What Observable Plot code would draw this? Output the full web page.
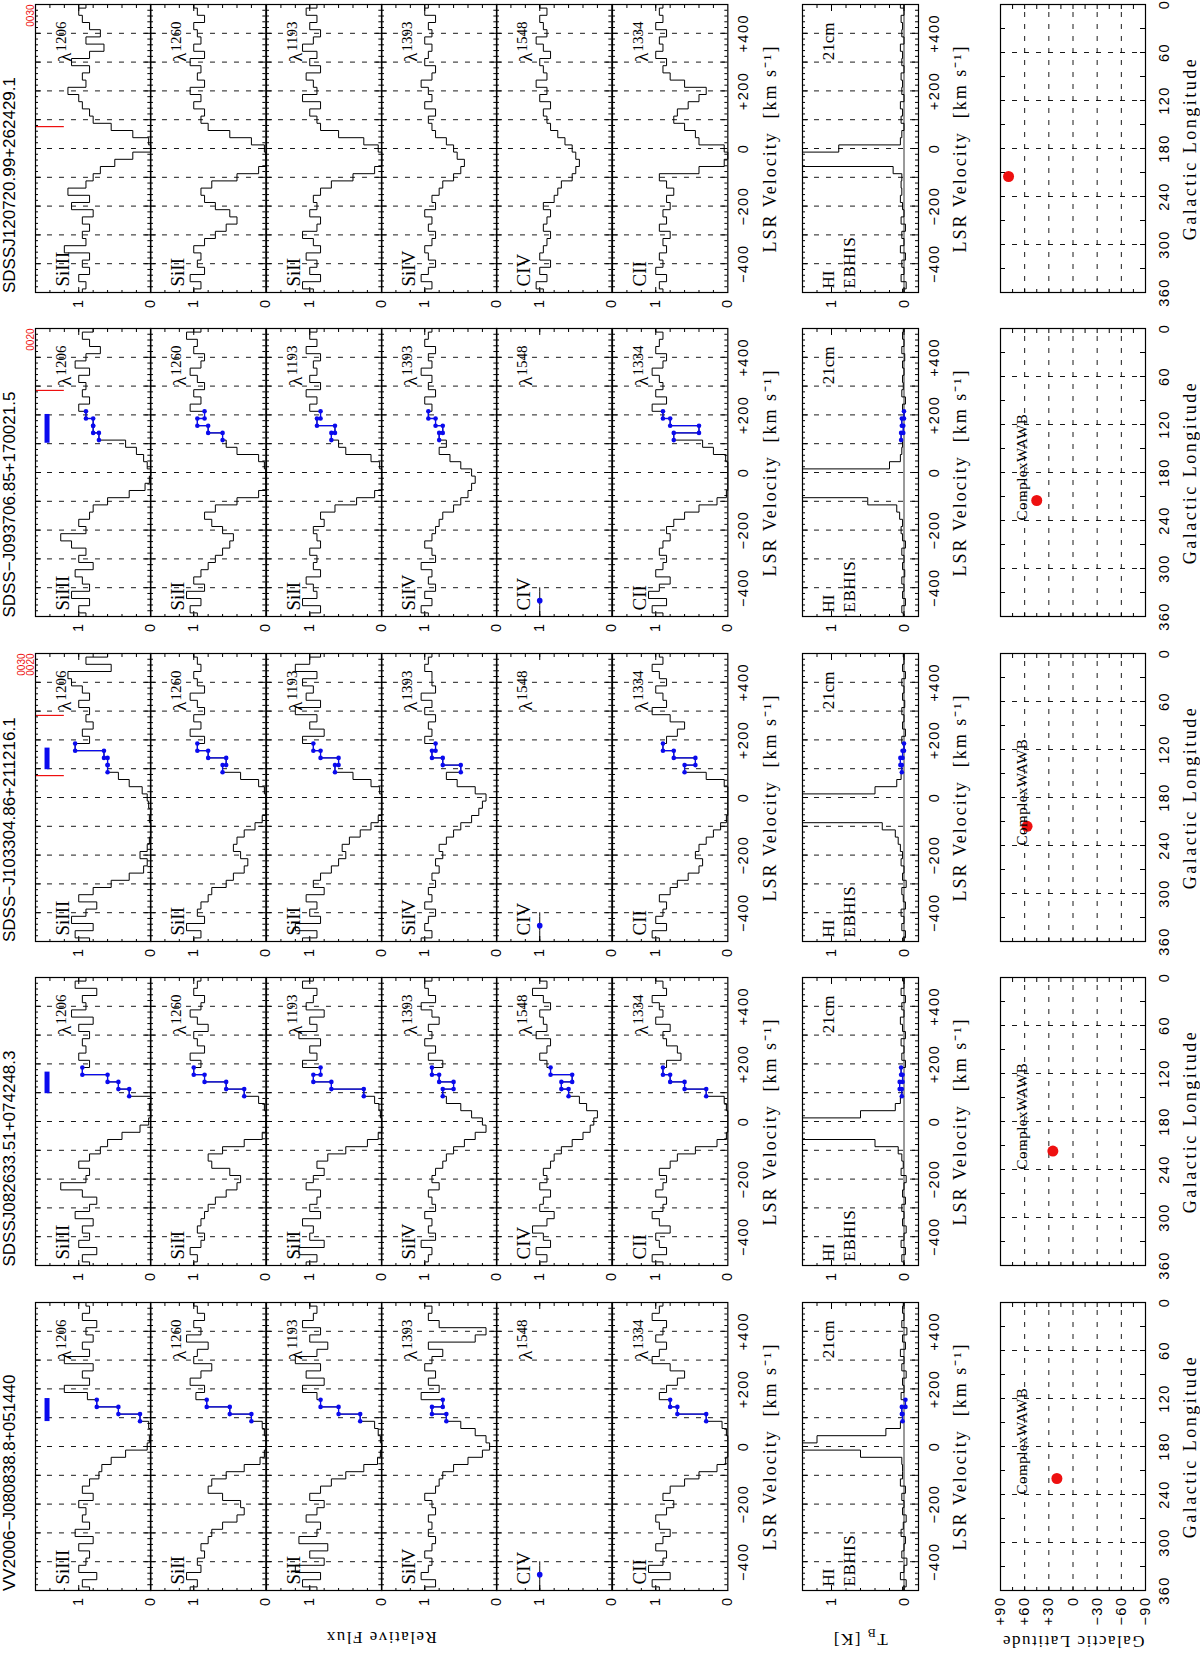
<!DOCTYPE html>
<html><head><meta charset="utf-8">
<script src="https://cdn.jsdelivr.net/npm/d3@7"></script>
<script src="https://cdn.jsdelivr.net/npm/@observablehq/plot@0.6"></script>
<style>
html,body{margin:0;padding:0;background:#fff;}
body{width:1200px;height:1655px;overflow:hidden;position:relative;}
#fig{position:absolute;left:0;top:0;width:1655px;height:1200px;transform-origin:0 0;transform:translate(0px,1655px) rotate(-90deg);}
.lbl{position:absolute;white-space:nowrap;color:#000;}
</style></head>
<body><div id="fig"></div>
<script>
// ---------------- DATA ----------------
const vel = [-500,-475,-450,-425,-400,-375,-350,-325,-300,-275,-250,-225,-200,-175,-150,-125,-100,-75,-50,-25,0,25,50,75,100,125,150,175,200,225,250,275,300,325,350,375,400,425,450,475,500];
const sightlines = ["VV2006\u2212J080838.8+051440","SDSSJ082633.51+074248.3","SDSS\u2212J103304.86+211216.1","SDSS\u2212J093706.85+170021.5","SDSSJ120720.99+262429.1"];
const ionNames = ["SiIII","SiII","SiII","SiIV","CIV","CII"];
const lineWaves = ["1206","1260","1193","1393","1548","1334"];

const vv2006_SiIII = [.85,.95,.75,1.00,.90, .85,1.00,.80,1.05,.85, .95,.90,1.00,.80,.95, .85,.72,.68,.55,.35, .05,.02,.00,.03,.15, .45,.75,.88,1.20,.85, .95,.80,1.20,.85,.95, .80,.90,.75,.95,.85, .90];
const vv2006_SiII1260 = [1.05,.95,1.10,.90,.95, .85,.90,.80,.75,.60, .40,.30,.35,.60,.80, .75,.55,.30,.08,.02, .00,.00,.02,.05,.20, .50,.82,.97,.85,1.05, .90,.75,1.00,.95,.80, 1.10,.90,1.00,.85,.95, 1.00];
const vv2006_SiII1193 = [.90,1.10,.85,1.20,.80, 1.00,.75,1.15,.90,.85, 1.05,.90,.80,1.00,.85, .70,.50,.25,.06,.02, .00,.02,.05,.10,.30, .60,.85,.90,1.10,.80, 1.05,.85,1.20,.90,.75, 1.00,.85,1.10,.95,.90, 1.00];
const vv2006_SiIV = [1.00,.85,1.05,.95,.90, 1.00,.90,.85,.95,.90, .95,.85,.90,1.00,.85, .80,.75,.60,.40,.20, .10,.15,.30,.50,.70, .90,.75,1.05,.80,.95, .85,1.00,.90,.75,.95, .30,.15,.80,.95,.90, 1.00];
const vv2006_CIV = [1,1,1,1,1, null,null,null,null,null, null,null,null,null,null, null,null,null,null,null, null,null,null,null,null, null,null,null,null,null, null,null,null,null,null, null,null,null,null,null, null];
const vv2006_CII = [.95,1.05,.80,1.10,.90, .85,1.00,.90,.80,.95, 1.00,.85,.75,.90,.80, .60,.40,.15,.03,.00, .00,.00,.02,.08,.30, .70,.80,.95,.85,.70, .60,.80,1.05,.95,.85, 1.00,.90,.85,1.05,.95, .90];
const vv2006_HI = [.02,-.03,.05,.00,-.04, .03,.00,-.02,.04,.01, -.03,.02,.00,.03,-.02, .05,.02,.02,.03,.60, 3.0,1.2,.25,.05,.02, .03,-.02,.04,.00,.02, -.03,.03,.00,.05,-.02, .02,-.04,.03,.00,.02, .01];

const j0826_SiIII = [.85,.95,.75,1.00,.85, .95,.80,1.05,.85,.75, .95,1.25,.90,.85,1.00, .85,.70,.60,.40,.15, .03,.00,.02,.00,.30, .45,.60,.95,.85,1.00, .90,.95,.85,1.00,.80, 1.10,.90,.95,.75,1.05, .90];
const j0826_SiII1260 = [1.00,.95,1.05,.90,.85, .95,.90,.85,.80,.70, .55,.40,.35,.50,.75, .80,.60,.30,.05,.00, .00,.00,.02,.10,.30, .55,.85,1.00,.90,1.05, .85,.95,1.00,.80,.95, 1.05,.90,.85,1.00,.95, .90];
const j0826_SiII1193 = [1.05,.90,1.15,.80,1.00, .95,1.10,.85,1.00,.90, .85,1.05,.95,.80,.90, .75,.50,.20,.05,.00, .00,.02,.04,.10,.25, .70,.95,.85,1.10,.90, 1.00,.85,1.15,.90,1.00, .80,1.05,.95,.90,1.10, .95];
const j0826_SiIV = [1.00,.95,.90,1.05,.85, .95,.90,1.00,.85,.90, .95,.80,.90,.85,.75, .70,.60,.45,.30,.15, .20,.35,.50,.70,.75, .60,.80,.90,.75,.95, .85,1.00,.90,.95,.80, .90,1.05,.85,.95,1.00, .90];
const j0826_CIV = [1.00,.90,1.05,.85,.95, 1.10,.90,.80,1.00,.95, .85,1.00,.90,.95,.85, .80,.70,.55,.40,.30, .25,.20,.35,.45,.60, .70,.55,.85,.90,1.00, .90,.85,1.05,.90,.95, 1.00,.85,.95,1.10,.90, 1.00];
const j0826_CII = [.90,1.05,.85,.95,1.00, .80,.95,1.05,.90,.85, 1.00,.90,.85,.95,.80, .70,.45,.15,.02,.00, .00,.00,.02,.05,.30, .60,.80,.90,.85,.65, .70,.85,.90,.80,1.00, .90,.95,1.05,.85,.90, 1.00];
const j0826_HI = [.00,.03,-.02,.04,.00, -.03,.02,.00,.03,-.02, .02,.00,-.03,.04,.01, .03,.08,.40,2.5,3.0, 2.5,.60,.12,.05,.03, .06,.02,.04,-.02,.03, .00,.04,-.02,.02,.05, .00,.03,-.02,.04,.00, .02];

const j1033_SiIII = [.85,1.05,.80,1.10,.90, .75,1.00,.80,.55,.30, .10,.05,.15,.05,.02, .00,.00,.02,.00,.03, .05,.12,.30,.45,.60, .60,.65,1.05,.85,.95, .80,.90,.85,1.00,.85, .95,1.10,1.15,.55,.90, .60];
const j1033_SiII1260 = [1.00,.90,1.10,.85,.95, .90,.80,.75,.55,.45, .30,.25,.35,.45,.40, .30,.15,.05,.00,.00, .00,.02,.10,.35,.60, .55,.80,.95,.85,1.05, .90,1.00,.85,.95,1.05, .85,.95,1.00,.90,.95, 1.00];
const j1033_SiII1193 = [1.10,.90,1.20,.85,1.00, .90,1.05,.80,.95,.85, .70,.60,.50,.55,.45, .30,.15,.05,.00,.00, .00,.03,.15,.40,.65, .60,.85,.95,1.10,.80, 1.00,.90,1.20,.85,1.05, .95,1.10,.90,1.20,1.00, .85];
const j1033_SiIV = [1.05,.90,1.00,.95,.85, 1.00,.90,.95,.85,.90, .80,.85,.75,.80,.70, .60,.50,.35,.25,.20, .15,.30,.55,.70,.50, .75,.90,.85,1.00,.90, .95,.85,1.00,.90,1.05, .85,.90,.90,1.00,.95, .90];
const j1033_CIV = [1,1,1,1,1, null,null,null,null,null, null,null,null,null,null, null,null,null,null,null, null,null,null,null,null, null,null,null,null,null, null,null,null,null,null, null,null,null,null,null, null];
const j1033_CII = [.95,1.05,.85,1.00,.90, .85,.95,.80,.70,.55, .40,.35,.45,.40,.30, .20,.10,.02,.00,.00, .00,.00,.05,.30,.60, .45,.75,.90,.85,.70, .60,.80,1.05,.85,.90, 1.00,.85,.95,1.05,.90, .95];
const j1033_HI = [.02,-.02,.03,.00,.04, -.02,.01,.03,-.03,.02, .00,.04,.02,.05,.08, .12,.30,1.5,3.0,3.0, 2.0,.40,.10,.04,.03, .05,.02,.00,.03,-.02, .02,.00,.03,-.01,.02, .00,.03,-.02,.02,.00, .01];

const j0937_SiIII = [.90,1.00,.85,1.10,.85, .95,1.05,.80,1.00,.90, 1.10,1.25,.90,1.00,.85, .80,.60,.30,.08,.02, .00,.05,.10,.20,.35, .72,.80,.80,.90,1.00, .85,.95,.90,1.00,.85, 1.05,.90,.70,.85,.95, .80];
const j0937_SiII1260 = [.95,1.05,.90,1.10,.85, 1.00,.90,.80,.70,.60, .50,.45,.60,.75,.85, .70,.40,.10,.00,.00, .00,.02,.10,.40,.55, .60,.80,.95,.85,1.05, .90,1.00,.85,.95,1.05, .90,.85,1.00,.95,1.10, .90];
const j0937_SiII1193 = [1.00,.85,1.10,.90,.95, 1.05,.85,.95,.90,1.00, .85,.90,.95,.80,.85, .65,.35,.10,.00,.00, .00,.03,.15,.50,.60, .70,.65,.90,.85,1.00, .90,1.05,.85,1.00,.90, .95,.85,1.05,.90,1.00, .90];
const j0937_SiIV = [.95,1.05,.90,1.00,.85, .95,.90,1.05,.85,.90, 1.00,.90,.85,.80,.75, .60,.50,.40,.35,.30, .35,.50,.65,.80,.70, .80,.75,.85,.95,.90, 1.00,.85,.95,.90,1.05, .90,.95,.85,1.00,.95, .90];
const j0937_CIV = [1,1,1,1,1, null,null,null,null,null, null,null,null,null,null, null,null,null,null,null, null,null,null,null,null, null,null,null,null,null, null,null,null,null,null, null,null,null,null,null, null];
const j0937_CII = [.90,1.05,.85,1.10,.95, .80,1.00,.90,.85,.95, .90,.80,.85,.75,.60, .40,.15,.02,.00,.00, .00,.00,.03,.20,.35, .75,.40,.80,.90,1.05, .85,1.00,.90,.95,1.05, .90,.85,1.00,.95,.90, 1.00];
const j0937_HI = [.01,.03,-.02,.02,.00, .03,-.01,.02,.00,.03, -.02,.02,.04,.02,.06, .10,.50,2.5,3.0,3.0, 1.5,.20,.05,.03,.02, .04,.01,.03,.00,.02, -.02,.03,.01,.02,.00, .02,-.01,.03,.00,.02, .01];

const j1207_SiIII = [.95,.90,1.00,.85,.95, .85,1.20,.90,.95,.85, .95,.80,1.10,.85,1.15, .90,.80,.70,.50,.25, .00,.03,.25,.55,.80, .85,.95,1.00,1.15,.90, .95,.85,1.10,.85,.65, .90,.70,.85,.95,1.00, .90];
const j1207_SiII1260 = [1.00,.90,1.05,.85,.95, .90,1.00,.85,.70,.55, .40,.50,.70,.85,.90, .75,.40,.10,.00,.00, .02,.20,.50,.80,.90, .85,1.00,.90,1.05,.85, .95,.90,1.05,.85,1.00, .90,.95,1.00,.85,.95, 1.00];
const j1207_SiII1193 = [.95,1.10,.85,1.00,.90, 1.05,.85,.95,1.10,.90, .85,1.00,.90,.95,.85, .70,.40,.10,.00,.00, .05,.25,.60,.85,.90, 1.00,.85,1.10,.90,.95, 1.05,.85,1.00,.90,1.10, .95,.85,1.00,.90,1.05, .90];
const j1207_SiIV = [1.00,.90,1.05,.95,.85, .95,1.00,.90,.85,.95, .90,1.00,.85,.90,.80, .75,.60,.50,.45,.55, .60,.70,.85,.90,.95, .85,1.00,.90,.95,1.05, .90,.85,1.00,.95,.90, 1.00,.90,.95,.85,1.00, .95];
const j1207_CIV = [.95,1.05,.90,1.00,.85, 1.00,.95,.90,.85,.95, .90,.85,.95,.80,.75, .70,.55,.50,.45,.50, .55,.65,.75,.85,.90, .95,.85,1.00,.90,1.05, .90,.95,1.00,.85,.95, 1.05,.90,.95,1.00,.90, 1.00];
const j1207_CII = [.90,.95,.85,1.00,.90, .95,.85,.90,.80,.95, .85,.90,.80,.85,.75, .85,.95,.40,.05,.00, .05,.40,.45,.60,.75, .70,.55,.40,.30,.60, .80,.90,.85,1.00,.90, .95,.85,1.00,.90,.95, .90];
const j1207_HI = [.02,-.03,.04,.00,.03, -.02,.05,.00,.03,-.02, .04,.00,.02,.05,.03, .04,.03,.15,3.0,3.0, .90,.05,.03,.00,.04, .02,.05,.00,.03,.02, .04,.00,.03,.02,.05, .00,.03,.02,.04,.00, .05];

const hvcLo = [90, 100, 100, 105, null];
const hvcHi = [170, 175, 175, 205, null];
const hvcBarFlux = [1.44];
const redMarkV = [[], [], [76, 285], [285], [76]];
const redMarkText = [[], [], ["0030", "0020"], ["0020"], ["0030"]];
const redMarkFlux = [1.2, 1.6];
const noDataV = [-445], noDataF = [1];
const galL = [220, 217, 216, 215, 215];
const galB = [20, 25, 57, 45, 80];
const complexText = ["ComplexWAWB", "ComplexWAWB", "ComplexWAWB", "ComplexWAWB", ""];
const complexL = [240], complexB = [63];
const velTickLabels = [-400, -200, 0, 200, 400];
const fluxTickLabels = [0, 1];
const lonTickLabels = [0, 60, 120, 180, 240, 300, 360];
const latTickLabels = [-90, -60, -30, 0, 30, 60, 90];

// tables built from the arrays
const spectra = [
  [vv2006_SiIII, vv2006_SiII1260, vv2006_SiII1193, vv2006_SiIV, vv2006_CIV, vv2006_CII],
  [j0826_SiIII, j0826_SiII1260, j0826_SiII1193, j0826_SiIV, j0826_CIV, j0826_CII],
  [j1033_SiIII, j1033_SiII1260, j1033_SiII1193, j1033_SiIV, j1033_CIV, j1033_CII],
  [j0937_SiIII, j0937_SiII1260, j0937_SiII1193, j0937_SiIV, j0937_CIV, j0937_CII],
  [j1207_SiIII, j1207_SiII1260, j1207_SiII1193, j1207_SiIV, j1207_CIV, j1207_CII]
];
const hiSpectra = [vv2006_HI, j0826_HI, j1033_HI, j0937_HI, j1207_HI];

// ---------------- LAYOUT (original landscape frame, rotated onto the page) ----------------
const SANS = "'Liberation Sans', Arial, Helvetica, sans-serif";
const SERIF = "'Liberation Serif', 'Times New Roman', serif";
const BLUE = "#0a0aee", RED = "#ee1010";
const fig = document.getElementById("fig");
const colLeft = [64, 388.5, 713, 1037.5, 1362], colW = 288;
const specTop = 35, specH = 115.33, hiTop = 802, hiH = 116, mapTop = 1000, mapH = 145;

const velGrid = d3.range(-400, 401, 100);
const velMajor = d3.range(-400, 401, 100);
const velMinor = d3.range(-480, 500, 20).filter(v => v % 100 !== 0);
const fluxMinor = d3.range(0.2, 1.6, 0.2);
const hiMinor = d3.range(-0.2, 1.4, 0.2);
const lonMinor = d3.range(30, 360, 30);
const latMinor = d3.range(-75, 90, 15);

const fmtV = d => d > 0 ? "+" + d : d < 0 ? "\u2212" + Math.abs(d) : "0";
const VLABEL = "LSR Velocity  [km s\u207b\u00b9]";
const spaced = {[VLABEL]: "2px", "ComplexWAWB": "0.5px", "Galactic Longitude": "2.5px", "EBHIS": "0.5px"};

function place(svg, left, top, w, h) {
  Object.assign(svg.style, {position: "absolute", left: left + "px", top: top + "px", width: w + "px", height: h + "px",
    maxWidth: "none", overflow: "visible", background: "transparent", font: `14.5px ${SANS}`});
  svg.querySelectorAll("text").forEach(t => {
    const tick = t.closest('g[aria-label*="tick label"]');
    t.style.letterSpacing = tick ? "1.5px" : (spaced[t.textContent] || "0px");
  });
  fig.appendChild(svg);
}
function edgeX(vals, h, len) {
  return [Plot.ruleX(vals, {insetBottom: h - len, stroke: "#000", strokeWidth: 1}),
          Plot.ruleX(vals, {insetTop: h - len, stroke: "#000", strokeWidth: 1})];
}
function edgeY(vals, w, len) {
  return [Plot.ruleY(vals, {insetRight: w - len, stroke: "#000", strokeWidth: 1}),
          Plot.ruleY(vals, {insetLeft: w - len, stroke: "#000", strokeWidth: 1})];
}
function hvcPoints(s, flux) {
  if (hvcLo[s] == null) return [];
  return vel.map((v, i) => ({v, f: flux[i]}))
    .filter(d => d.f != null && d.v >= hvcLo[s] && d.v <= hvcHi[s])
    .flatMap(d => [{v: d.v - 12.5, f: d.f}, {v: d.v + 12.5, f: d.f}]);
}
function waveLabel(k) {
  return [
    Plot.text([lineWaves[k]], {text: d => d, frameAnchor: "top-right", lineAnchor: "top", textAnchor: "end", dx: -17, dy: 20, fontSize: 15, fontFamily: SERIF}),
    Plot.text(["\u03bb"], {text: d => d, frameAnchor: "top-right", lineAnchor: "top", textAnchor: "end", dx: -48, dy: 22, fontSize: 19, fontFamily: SERIF})
  ];
}

function specPanel(s, k) {
  const flux = spectra[s][k];
  const pts = vel.map((v, i) => ({v, f: flux[i]}));
  const noData = flux.slice(5).every(f => f == null);
  const marks = [
    Plot.ruleX(velGrid, {stroke: "#000", strokeWidth: 0.9, strokeDasharray: "5,7"}),
    ...edgeX(velMinor, specH, 3), ...edgeX(velMajor, specH, 6),
    ...edgeY(fluxMinor, colW, 3), ...edgeY([1], colW, 6),
    Plot.line(pts, {x: "v", y: "f", curve: "step", stroke: "#000", strokeWidth: 1})
  ];
  if (hvcLo[s] != null) {
    if (noData) {
      marks.push(Plot.dot(noDataV.map((v, i) => ({v, f: noDataF[i]})), {x: "v", y: "f", r: 2.8, fill: BLUE, stroke: "none"}));
    } else {
      const b = hvcPoints(s, flux);
      marks.push(Plot.line(b, {x: "v", y: "f", stroke: BLUE, strokeWidth: 1.3}));
      marks.push(Plot.dot(b, {x: "v", y: "f", r: 2.3, fill: BLUE, stroke: "none"}));
    }
    if (k === 0) marks.push(Plot.ruleY(hvcBarFlux, {x1: hvcLo[s], x2: hvcHi[s], stroke: BLUE, strokeWidth: 5}));
  }
  if (k === 0 && redMarkV[s].length) {
    marks.push(Plot.ruleX(redMarkV[s], {y1: redMarkFlux[0], y2: redMarkFlux[1], stroke: RED, strokeWidth: 1.2}));
    const n = redMarkText[s].length;
    redMarkText[s].forEach((t, i) => marks.push(Plot.text([t], {text: d => d, frameAnchor: "top-right", lineAnchor: "bottom",
      dy: -2 - (n - 1 - i) * 9, fill: RED, fontSize: 10, fontFamily: SANS})));
  }
  marks.push(Plot.frame({stroke: "#000", strokeWidth: 1.2}));
  marks.push(Plot.axisY({anchor: "left", ticks: fluxTickLabels, tickSize: 0, tickPadding: 6, tickFormat: d => String(d), label: null}));
  marks.push(Plot.text([ionNames[k]], {text: d => d, frameAnchor: "top-left", lineAnchor: "top", dx: 6, dy: 20, fontSize: 19, fontFamily: SERIF}));
  marks.push(...waveLabel(k));
  if (k === 5) {
    marks.push(Plot.axisX({anchor: "bottom", ticks: velTickLabels, tickSize: 0, tickPadding: 10, tickFormat: fmtV, label: null}));
    marks.push(Plot.text([VLABEL], {text: d => d, frameAnchor: "bottom", lineAnchor: "top", dy: 35, fontSize: 18, fontFamily: SERIF}));
  }
  const svg = Plot.plot({width: colW, height: specH, margin: 0,
    x: {domain: [-500, 500], axis: null, label: null}, y: {domain: [0, 1.6], axis: null, label: null}, marks});
  place(svg, colLeft[s], specTop + k * specH, colW, specH);
}

function hiPanel(s) {
  const T = hiSpectra[s];
  const pts = vel.map((v, i) => ({v, f: T[i]}));
  const marks = [
    Plot.ruleX(velGrid, {stroke: "#000", strokeWidth: 0.9, strokeDasharray: "5,7"}),
    ...edgeX(velMinor, hiH, 3), ...edgeX(velMajor, hiH, 6),
    ...edgeY(hiMinor, colW, 3), ...edgeY([0, 1], colW, 6),
    Plot.ruleY([0], {stroke: "#000", strokeWidth: 0.8}),
    Plot.line(pts, {x: "v", y: "f", curve: "step", stroke: "#000", strokeWidth: 1, clip: true})
  ];
  const b = hvcPoints(s, T);
  if (b.length) {
    marks.push(Plot.line(b, {x: "v", y: "f", stroke: BLUE, strokeWidth: 1.3}));
    marks.push(Plot.dot(b, {x: "v", y: "f", r: 2.3, fill: BLUE, stroke: "none"}));
  }
  marks.push(Plot.frame({stroke: "#000", strokeWidth: 1.2}));
  marks.push(Plot.axisY({anchor: "left", ticks: fluxTickLabels, tickSize: 0, tickPadding: 6, tickFormat: d => String(d), label: null}));
  marks.push(Plot.axisX({anchor: "bottom", ticks: velTickLabels, tickSize: 0, tickPadding: 10, tickFormat: fmtV, label: null}));
  marks.push(Plot.text([VLABEL], {text: d => d, frameAnchor: "bottom", lineAnchor: "top", dy: 35, fontSize: 18, fontFamily: SERIF}));
  marks.push(Plot.text(["HI"], {text: d => d, frameAnchor: "top-left", lineAnchor: "top", dx: 4, dy: 19, fontSize: 17, fontFamily: SERIF}));
  marks.push(Plot.text(["EBHIS"], {text: d => d, frameAnchor: "top-left", lineAnchor: "top", dx: 4, dy: 40, fontSize: 17, fontFamily: SERIF}));
  marks.push(Plot.text(["21cm"], {text: d => d, frameAnchor: "top-right", lineAnchor: "top", dx: -18, dy: 19, fontSize: 17, fontFamily: SERIF}));
  const svg = Plot.plot({width: colW, height: hiH, margin: 0,
    x: {domain: [-500, 500], axis: null, label: null}, y: {domain: [-0.2, 1.4], axis: null, label: null}, marks});
  place(svg, colLeft[s], hiTop, colW, hiH);
}

function mapPanel(s) {
  const marks = [
    Plot.ruleX(d3.range(60, 301, 60), {stroke: "#000", strokeWidth: 0.9, strokeDasharray: "5,7"}),
    Plot.ruleY(d3.range(-60, 61, 30), {stroke: "#000", strokeWidth: 0.9, strokeDasharray: "5,7"}),
    ...edgeX(lonMinor, mapH, 5), ...edgeY(latMinor, colW, 4),
    Plot.frame({stroke: "#000", strokeWidth: 1.2}),
    Plot.dot([{l: galL[s], b: galB[s]}], {x: "l", y: "b", r: 5.5, fill: RED, stroke: "none"}),
    Plot.axisX({anchor: "bottom", ticks: lonTickLabels, tickSize: 0, tickPadding: 13, tickFormat: d => String(d), label: null}),
    Plot.text(["Galactic Longitude"], {text: d => d, frameAnchor: "bottom", lineAnchor: "top", dy: 38, fontSize: 18, fontFamily: SERIF})
  ];
  if (complexText[s]) {
    marks.push(Plot.text([{l: complexL[0], b: complexB[0]}], {x: "l", y: "b", text: () => complexText[s], textAnchor: "start", fontSize: 15, fontFamily: SERIF}));
  }
  if (s === 0) {
    marks.push(Plot.axisY({anchor: "left", ticks: latTickLabels, tickSize: 0, tickPadding: 6, tickFormat: fmtV, label: null}));
  }
  const svg = Plot.plot({width: colW, height: mapH, margin: 0,
    x: {domain: [360, 0], axis: null, label: null}, y: {domain: [-90, 90], axis: null, label: null}, marks});
  place(svg, colLeft[s], mapTop, colW, mapH);
}

for (let s = 0; s < 5; s++) {
  for (let k = 0; k < 6; k++) specPanel(s, k);
  hiPanel(s);
  mapPanel(s);
}

function htmlLabel(html, css) {
  const d = document.createElement("div");
  d.className = "lbl"; d.innerHTML = html; Object.assign(d.style, css); fig.appendChild(d);
}
sightlines.forEach((t, s) => htmlLabel(t, {left: colLeft[s] + "px", top: "1px", font: `17px ${SANS}`, lineHeight: "17px"}));
const rot = {transform: "translate(-50%,-50%) rotate(-90deg)", font: `17px ${SERIF}`, letterSpacing: "1.5px"};
htmlLabel("Relative Flux", {...rot, left: "18px", top: (specTop + 3 * specH) + "px"});
htmlLabel("T<sub style='font-size:12px'>B</sub> [K]", {...rot, left: "18px", top: (hiTop + hiH / 2) + "px"});
htmlLabel("Galactic Latitude", {...rot, left: "14px", top: (mapTop + mapH / 2) + "px"});
</script></body></html>
